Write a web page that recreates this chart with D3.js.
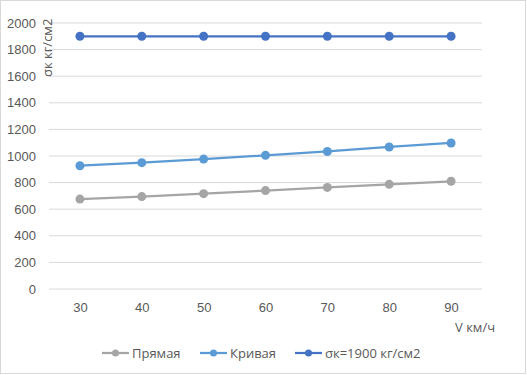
<!DOCTYPE html>
<html lang="ru">
<head>
  <meta charset="UTF-8">
  <title>σк</title>
  <script src="https://d3js.org/d3.v7.min.js"></script>
  <style>
    body { margin: 0; background: #fff; font-family: "Open Sans", "Noto Sans", sans-serif; }
    .grid line { stroke: #d9d9d9; stroke-width: 1px; }
    .tick text { fill: #595959; font-size: 13px; }
    .series path { fill: none; stroke-width: 2.25px; }
    .legend text, .title { fill: #595959; font-size: 13px; }
  </style>
</head>
<body>
  <div id="chart"></div>
  <script>
    const speeds = [30, 40, 50, 60, 70, 80, 90];
    const yTicks = [0, 200, 400, 600, 800, 1000, 1200, 1400, 1600, 1800, 2000];
    const seriesNames = ["Прямая", "Кривая", "σк=1900 кг/см2"];
    const seriesColors = ["#a5a5a5", "#5b9bd5", "#4472c4"];
    const pryamaya = [676, 695, 717, 740, 764, 787, 810];
    const krivaya = [927, 950, 977, 1005, 1034, 1068, 1098];
    const sigma = [1900, 1900, 1900, 1900, 1900, 1900, 1900];

    const seriesValues = [pryamaya, krivaya, sigma];
    const W = 527, H = 375;
    const plot = { left: 49, right: 482, top: 23, bottom: 289 };

    const svg = d3.select("#chart").append("svg")
      .attr("width", W).attr("height", H);

    svg.append("rect")
      .attr("x", 0.5).attr("y", 0.5)
      .attr("width", W - 2).attr("height", H - 2)
      .attr("fill", "#fff").attr("stroke", "#d9d9d9");

    const x = d3.scalePoint().domain(speeds)
      .range([plot.left, plot.right]).padding(0.5);
    const y = d3.scaleLinear().domain([0, 2000])
      .range([plot.bottom, plot.top]);

    // сетка
    svg.append("g").attr("class", "grid")
      .selectAll("line").data(yTicks).enter().append("line")
      .attr("x1", plot.left).attr("x2", plot.right)
      .attr("y1", d => y(d)).attr("y2", d => y(d));

    // ось Y
    const yAxis = svg.append("g")
      .attr("transform", `translate(${plot.left},0)`)
      .call(d3.axisLeft(y).tickValues(yTicks).tickFormat(d3.format("d")).tickSize(0));
    yAxis.select(".domain").remove();
    yAxis.selectAll("text").attr("text-anchor", "end").attr("x", -13);

    // ось X
    const xAxis = svg.append("g")
      .attr("transform", `translate(0,${plot.bottom})`)
      .call(d3.axisBottom(x).tickSize(0).tickPadding(14));
    xAxis.select(".domain").remove();

    // подписи осей
    svg.append("text").attr("class", "title")
      .attr("transform", "translate(52,77) rotate(-90)")
      .attr("text-anchor", "start")
      .text("σк кг/см2");
    svg.append("text").attr("class", "title")
      .attr("x", 455).attr("y", 332)
      .text("V км/ч");

    // линии
    const line = d3.line().x((d, i) => x(speeds[i])).y(d => y(d));
    seriesValues.forEach((vals, k) => {
      const g = svg.append("g").attr("class", "series");
      g.append("path").attr("d", line(vals)).attr("stroke", seriesColors[k]);
      g.selectAll("circle").data(vals).enter().append("circle")
        .attr("cx", (d, i) => x(speeds[i])).attr("cy", d => y(d))
        .attr("r", 4.5).attr("fill", seriesColors[k]);
    });

    // легенда
    const legendX = [102, 200, 295];
    const legend = svg.append("g").attr("class", "legend");
    seriesNames.forEach((name, k) => {
      const g = legend.append("g").attr("transform", `translate(${legendX[k]},353)`);
      g.append("line").attr("x1", 0).attr("x2", 27)
        .attr("stroke", seriesColors[k]).attr("stroke-width", 2.25);
      g.append("circle").attr("cx", 13.5).attr("r", 3.5).attr("fill", seriesColors[k]);
      g.append("text").attr("x", 30).attr("dy", "0.35em").text(name);
    });
  </script>
</body>
</html>
